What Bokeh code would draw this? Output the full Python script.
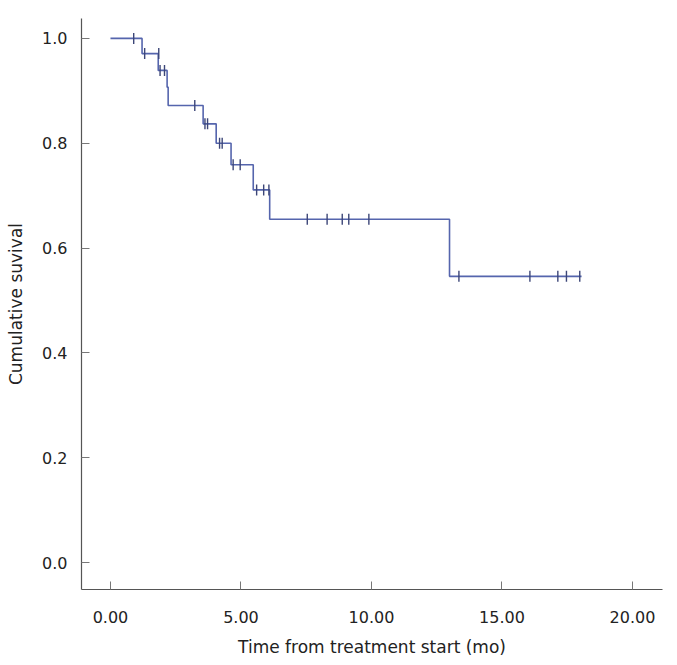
import numpy as np
from bokeh.plotting import figure
from bokeh.models import FixedTicker, NumeralTickFormatter, ColumnDataSource
from bokeh.embed import file_html
from bokeh.resources import INLINE

# Kaplan-Meier step curve (time in months, cumulative survival)
step_times = [0.0, 1.21, 1.83, 2.17, 2.21, 3.55, 4.05, 4.62, 5.47, 6.10, 12.99, 18.05]
step_surv = [1.0, 0.971, 0.939, 0.907, 0.872, 0.837, 0.800, 0.759, 0.711, 0.655, 0.546, 0.546]

# Censored observations
cens_times = [0.89, 1.31, 1.85, 1.90, 2.07, 3.23, 3.62, 3.72, 4.18, 4.28, 4.70, 4.97,
              5.60, 5.87, 6.07, 7.54, 8.30, 8.88, 9.13, 9.90, 13.35, 16.07, 17.14, 17.47, 17.98]
cens_surv = [1.0, 0.971, 0.971, 0.939, 0.939, 0.872, 0.837, 0.837, 0.800, 0.800, 0.759, 0.759,
             0.711, 0.711, 0.711, 0.655, 0.655, 0.655, 0.655, 0.655, 0.546, 0.546, 0.546, 0.546, 0.546]

x_ticks = [0, 5, 10, 15, 20]
y_ticks = [0.0, 0.2, 0.4, 0.6, 0.8, 1.0]

FONT = "DejaVu Sans"

p = figure(width=672, height=661, x_range=(-1.11, 21.15), y_range=(-0.0515, 1.038),
           output_backend="svg", toolbar_location=None,
           min_border_left=81, min_border_right=10, min_border_top=18, min_border_bottom=72)
p.outline_line_color = None
p.xgrid.grid_line_color = None
p.ygrid.grid_line_color = None
p.background_fill_color = "white"
p.border_fill_color = "white"

step_src = ColumnDataSource(dict(t=step_times, s=step_surv))
p.step("t", "s", source=step_src, mode="after", line_color="#5565ad", line_width=1.6)

cens_src = ColumnDataSource(dict(t=cens_times, s=cens_surv))
p.scatter("t", "s", source=cens_src, marker="dash", angle=np.pi / 2, size=11,
          line_color="#3c4678", line_width=1.4)

for ax in (p.xaxis[0], p.yaxis[0]):
    ax.axis_line_color = "#555555"
    ax.axis_line_width = 1.2
    ax.major_tick_line_color = "#777777"
    ax.major_tick_in = 8
    ax.major_tick_out = 0
    ax.minor_tick_line_color = None
    ax.major_label_text_font = FONT
    ax.major_label_text_font_size = "16px"
    ax.major_label_text_color = "#222222"
    ax.axis_label_text_font = FONT
    ax.axis_label_text_font_size = "17px"
    ax.axis_label_text_font_style = "normal"
    ax.axis_label_text_color = "#222222"

p.xaxis.ticker = FixedTicker(ticks=x_ticks)
p.xaxis.formatter = NumeralTickFormatter(format="0.00")
p.xaxis.axis_label = "Time from treatment start (mo)"
p.xaxis.major_label_standoff = 21
p.xaxis.axis_label_standoff = 11

p.yaxis.ticker = FixedTicker(ticks=y_ticks)
p.yaxis.formatter = NumeralTickFormatter(format="0.0")
p.yaxis.axis_label = "Cumulative suvival"
p.yaxis.major_label_standoff = 14
p.yaxis.axis_label_standoff = 13

open("out.html", "w").write(file_html(p, INLINE))
